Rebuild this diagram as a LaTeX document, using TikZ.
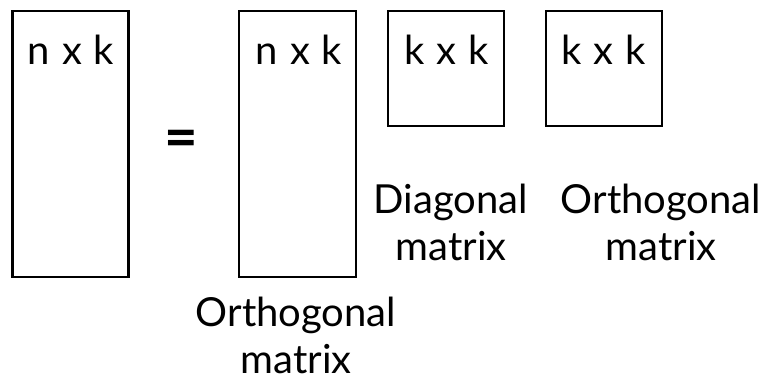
\documentclass[tikz,border=0pt]{standalone}
\usepackage{fontspec}
\setmainfont{Lato}
\newcommand{\gp}{\hspace{12pt}}
\begin{document}
\begin{tikzpicture}[x=1pt,y=-1pt,
  mat/.style={draw=black, line width=2.5pt, inner sep=0pt, fill=white},
  dim/.style={font=\fontsize{40}{48}\selectfont, anchor=base, inner sep=0pt},
  lbl/.style={font=\fontsize{40}{47}\selectfont, align=center, anchor=base, inner sep=0pt}]
\useasboundingbox[fill=white] (0,0) rectangle (767,380);
% matrices
\node[mat, minimum width=116pt, minimum height=266pt] (A) at (70.5,144) {};
\node[mat, minimum width=117pt, minimum height=266pt] (U) at (297.5,144) {};
\node[mat, minimum width=116pt, minimum height=115pt] (S) at (446,68.5) {};
\node[mat, minimum width=116pt, minimum height=115pt] (V) at (604,68.5) {};
% dimensions
\node[dim] (Ad) at (71,64) {n\gp x\gp k};
\node[dim] (Ud) at (299,64) {n\gp x\gp k};
\node[dim] (Sd) at (446.5,64) {k\gp x\gp k};
\node[dim] (Vd) at (603.5,64) {k\gp x\gp k};
% equals
\node[font=\fontsize{58}{60}\selectfont\bfseries, inner sep=0pt, anchor=center] (eq) at (181,144) {=};
% labels
\node[lbl] (Sl) at (451,260) {Diagonal\\matrix};
\node[lbl] (Vl) at (661,260) {Orthogonal\\matrix};
\node[lbl] (Ul) at (296,373) {Orthogonal\\matrix};
\end{tikzpicture}
\end{document}
